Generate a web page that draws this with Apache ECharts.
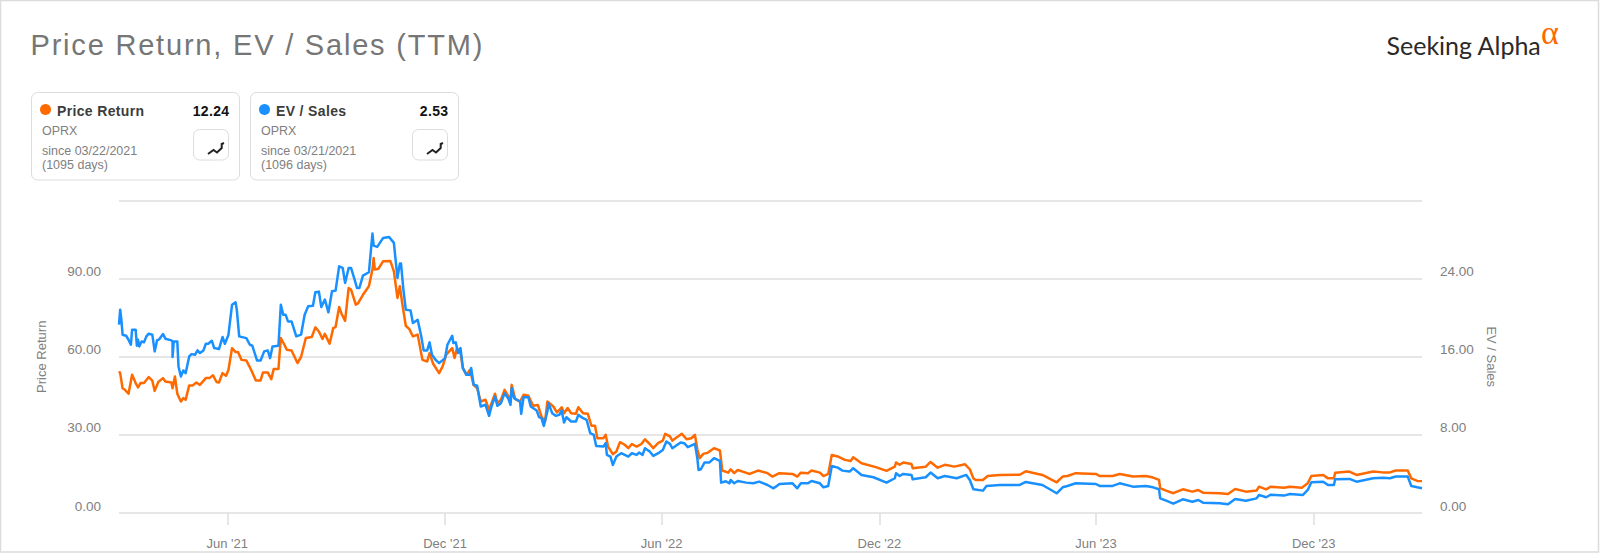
<!DOCTYPE html>
<html><head><meta charset="utf-8">
<style>
html,body{margin:0;padding:0;background:#fff}
#c{width:1600px;height:553px}
#c text[style*="29px"]{letter-spacing:1.8px}
#c text[style*="bold"]{letter-spacing:.35px}
</style>
<script src="https://cdn.jsdelivr.net/npm/echarts@6/dist/echarts.min.js"></script>
</head><body><div id="c"></div>
<script>
// x values are days since 2021-03-22
const priceDays = [0,1,3,5,8,11,14,16,18,21,25,28,30,33,37,39,44,45,47,49,52,54,56,59,62,65,68,73,76,79,82,84,87,90,92,95,98,100,103,107,111,115,119,121,125,128,130,134,136,139,141,145,150,153,157,162,165,168,171,173,177,180,182,185,187,190,193,195,199,201,205,210,213,214,215,218,222,228,231,234,236,238,241,244,247,251,255,259,261,264,269,272,275,280,282,284,287,289,292,295,298,301,304,308,311,316,318,321,324,327,329,330,333,337,340,344,348,352,355,358,360,365,368,372,374,377,380,384,386,390,394,397,400,402,407,409,411,415,418,421,425,428,431,435,439,442,446,449,453,457,459,463,465,473,477,481,484,486,488,491,495,500,505,507,512,514,517,520,526,530,537,545,549,555,566,570,573,579,582,589,592,596,599,604,610,615,617,624,636,645,652,653,656,659,666,667,678,682,688,694,702,711,715,718,720,726,730,740,757,762,776,788,793,797,804,821,824,835,841,852,863,869,874,875,880,886,894,902,907,911,925,932,938,947,956,958,964,968,979,984,994,999,1002,1012,1016,1021,1022,1034,1040,1054,1062,1068,1073,1083,1086,1091,1095];
const priceValues = [54.4,53.7,47.9,47.3,45.8,53.1,49.9,48.2,49.9,49.9,52.2,50.8,46.9,50.3,51.8,50.5,50.1,47.9,52.4,45.8,42.8,44.1,43.5,49.0,49.0,50.1,49.2,51.8,51.8,52.9,50.3,50.1,53.7,52.7,55.0,63.3,61.8,61.8,58.8,58.6,55.0,50.9,50.9,54.0,54.0,51.4,55.3,55.3,67.2,64.6,62.7,62.4,57.6,59.9,67.2,67.6,71.3,69.7,66.8,68.8,65.0,71.0,71.4,79.1,76.5,73.8,86.4,85.8,80.0,80.6,83.8,87.1,93.5,97.9,93.5,93.8,96.7,96.8,92.8,82.6,87.1,80.6,71.9,70.6,67.8,68.5,58.8,58.2,61.4,57.3,53.7,56.3,60.8,63.3,59.5,63.3,61.4,55.6,53.1,55.0,49.2,47.9,42.8,43.5,39.6,45.8,42.2,43.5,47.3,45.0,43.5,49.2,43.7,42.8,45.4,45.0,41.2,41.5,37.1,35.1,42.8,40.9,38.6,40.6,38.3,40.3,38.3,38.1,40.6,38.3,38.1,33.5,33.5,28.7,28.7,30.0,25.5,22.6,23.6,27.2,26.2,24.9,26.5,25.5,26.5,28.3,26.5,24.9,26.8,27.8,30.4,29.4,27.8,30.4,28.3,28.7,30.0,24.5,21.0,22.7,23.2,24.9,24.0,16.3,15.5,16.8,15.3,16.5,15.6,15.0,16.3,15.3,14.0,15.3,15.0,14.0,15.5,15.3,16.3,15.5,14.2,15.0,22.3,21.7,20.4,20.0,21.4,19.1,17.6,16.2,17.8,19.4,18.5,19.4,18.8,17.2,17.8,19.6,17.4,18.5,17.8,18.7,16.8,13.3,12.7,12.7,14.2,14.6,14.7,16.0,14.6,11.8,14.0,14.2,15.3,15.0,14.2,14.2,15.0,14.0,14.2,13.6,12.7,9.5,8.6,7.6,9.1,8.2,8.8,7.8,7.6,7.3,9.2,8.2,8.6,10.1,9.1,10.1,9.7,10.1,9.7,11.4,14.2,14.6,13.3,13.3,15.5,15.9,14.6,15.9,15.6,15.6,16.3,16.3,13.3,12.3,12.24];
const evDays = [0,1,2,3,6,8,10,11,14,15,16,17,19,21,23,25,28,30,32,34,37,39,44,45,45,46,49,50,52,54,56,59,61,64,66,68,71,73,75,78,80,84,87,89,92,95,98,99,101,107,110,112,116,119,122,125,127,129,134,136,138,140,142,145,149,153,156,159,163,165,168,170,173,176,179,182,185,188,190,193,195,198,200,202,205,210,213,214,217,222,227,231,234,236,237,239,241,245,247,251,254,256,259,261,263,266,269,274,276,280,281,283,285,287,289,292,295,296,298,301,304,308,311,313,316,318,321,324,327,329,330,332,337,338,340,344,346,351,353,355,357,360,361,364,367,370,372,374,376,380,384,386,390,393,396,399,401,407,409,410,413,415,418,422,428,431,435,437,440,442,446,449,454,457,460,463,465,472,475,478,484,486,487,489,492,496,500,505,506,510,513,514,517,520,527,533,538,545,550,552,555,566,570,573,579,582,589,592,596,599,604,608,614,617,624,634,645,652,653,656,659,666,667,678,682,688,694,704,712,715,718,726,729,740,757,762,776,788,793,797,804,821,824,835,841,852,863,869,874,875,880,886,894,902,907,911,925,932,938,947,956,958,964,968,979,984,995,999,1002,1012,1016,1021,1022,1034,1040,1054,1062,1068,1073,1083,1086,1091,1095];
const evValues = [19.28,20.82,19.79,18.26,18.15,17.74,17.23,18.77,18.77,17.13,17.74,17.06,17.57,17.47,18.09,18.36,18.26,16.55,17.68,17.81,18.32,17.85,17.68,17.57,15.97,17.57,17.57,15.01,13.98,14.6,14.32,16.03,16.27,16.21,16.65,16.38,16.65,17.33,17.33,17.64,16.89,16.79,18.02,17.33,18.26,21.33,21.57,20.82,18.09,17.91,17.23,17.13,15.62,15.62,16.55,16.65,15.86,17.06,17.13,21.33,20.31,20.31,19.62,19.62,18.09,18.26,20.31,21.16,21.23,22.6,22.67,21.09,21.85,20.55,22.7,22.77,25.26,25.09,23.56,25.09,25.09,23.9,23.04,23.04,24.31,24.65,28.62,27.38,27.25,28.17,28.27,27.66,24.07,25.54,25.54,22.87,20.82,20.75,19.45,19.79,18.09,16.65,16.65,17.47,16.21,15.69,15.35,15.86,17.23,18.15,17.4,17.47,16.38,16.89,14.84,14.15,14.15,14.84,13.13,13.03,10.91,11.08,9.95,10.91,11.93,10.97,11.25,12.27,11.76,11.08,12.79,11.76,11.42,10.15,11.86,11.86,10.91,10.5,9.81,9.71,8.92,10.39,11.25,10.22,9.95,10.05,10.5,9.26,9.81,9.37,9.37,10.05,9.71,9.54,8.17,8.0,6.87,6.8,7.15,5.95,5.78,4.92,5.78,6.12,5.78,6.12,5.95,6.19,5.95,6.63,6.29,5.85,6.19,6.46,7.32,7.08,6.63,7.21,7.15,6.74,7.08,5.61,4.41,4.48,5.16,5.16,5.61,5.33,3.11,3.25,3.04,3.38,3.04,3.28,3.11,3.04,3.21,2.87,2.53,2.7,2.97,3.04,2.53,3.04,3.04,3.28,3.04,2.63,2.77,4.82,4.65,4.34,4.24,4.58,3.9,3.66,3.11,3.56,4.07,3.79,4.0,3.9,3.45,3.66,4.14,3.56,3.79,3.56,3.9,3.38,2.43,2.29,2.77,2.87,2.87,3.18,2.87,2.02,2.63,2.77,3.04,2.97,2.77,2.77,3.04,2.7,2.77,2.63,2.43,1.5,1.26,0.96,1.4,1.16,1.33,1.06,0.99,0.89,1.44,1.26,1.5,1.85,1.61,1.88,1.78,1.95,1.85,2.36,3.15,3.21,2.87,2.87,3.45,3.49,3.21,3.56,3.62,3.56,3.73,3.73,2.77,2.63,2.53];
const tickDays = [91,274,456,639,821,1004];
const tickLabels = ["Jun '21","Dec '21","Jun '22","Dec '22","Jun '23","Dec '23"];
const lastDay = 1095;

const pairs = (days, vals) => days.map((d, i) => [d, vals[i]]);

const GRID = '#dedede', MUTED = '#808080', ORANGE = '#ff6a00', BLUE = '#1890ff';
const FF = '"Liberation Sans", Arial, sans-serif';
const gText = (x, y, text, o) => ({type:'text', x, y, silent:true, style:Object.assign({text, fill:MUTED, font:'12.5px '+FF, textAlign:'left', textVerticalAlign:'middle'}, o||{})});

function card(x, name, color, value, since, days) {
  return [
    {type:'rect', shape:{x:x+.5, y:92.5, width:208, height:87.5, r:6}, style:{fill:'#fff', stroke:'#dcdcdc', lineWidth:1}},
    {type:'circle', shape:{cx:x+14.5, cy:109.5, r:5.5}, style:{fill:color}},
    gText(x+26, 110.5, name, {font:'bold 14px '+FF, fill:'#3c3c3c'}),
    gText(x+198.5, 110.5, value, {font:'bold 14px '+FF, fill:'#111', textAlign:'right'}),
    gText(x+11, 130.5, 'OPRX'),
    gText(x+11, 150.5, since),
    gText(x+11, 165, days),
    {type:'rect', shape:{x:x+162.5, y:129.5, width:35, height:30.5, r:6}, style:{fill:'#fff', stroke:'#dcdcdc', lineWidth:1}},
    {type:'polyline', shape:{points:[[x+177,154],[x+182.5,150],[x+186,152.5],[x+190.7,148],[x+190.7,144],[x+193,143]]}, style:{fill:'none', stroke:'#222', lineWidth:2}}
  ];
}

const chart = echarts.init(document.getElementById('c'), null, {renderer:'svg', width:1600, height:553});
chart.setOption({
  animation:false,
  backgroundColor:'#fff',
  title:{text:'Price Return, EV / Sales (TTM)', left:25.5, top:25, textStyle:{fontFamily:FF, fontSize:29, fontWeight:'normal', color:'#767676'}},
  grid:{left:119, right:178, top:200.5, bottom:40, containLabel:false},
  xAxis:{
    type:'value', min:0, max:lastDay,
    axisLine:{show:false},
    splitLine:{show:false},
    axisTick:{show:true, length:12, customValues:tickDays, lineStyle:{color:GRID, width:1.5}},
    axisLabel:{
      customValues:tickDays, margin:24, fontFamily:FF, fontSize:13, color:MUTED,
      formatter:(v)=>tickLabels[tickDays.indexOf(v)] || ''
    }
  },
  yAxis:[
    {type:'value', min:0, max:120, interval:30, position:'left', name:'Price Return', nameLocation:'middle', nameRotate:90, nameGap:71,
     nameTextStyle:{fontFamily:FF, fontSize:13, color:MUTED},
     axisLine:{show:false}, axisTick:{show:false}, splitLine:{lineStyle:{color:GRID, width:1.5}},
     axisLabel:{showMaxLabel:false, margin:18, verticalAlign:'bottom', fontFamily:FF, fontSize:13.5, color:MUTED, formatter:v=>v.toFixed(2)}},
    {type:'value', min:0, max:32, interval:8, position:'right', name:'EV / Sales', nameLocation:'middle', nameRotate:-90, nameGap:63,
     nameTextStyle:{fontFamily:FF, fontSize:13, color:MUTED},
     axisLine:{show:false}, axisTick:{show:false}, splitLine:{show:false},
     axisLabel:{showMaxLabel:false, margin:18, verticalAlign:'bottom', fontFamily:FF, fontSize:13.5, color:MUTED, formatter:v=>v.toFixed(2)}}
  ],
  series:[
    {name:'Price Return', type:'line', yAxisIndex:0, data:pairs(priceDays, priceValues), showSymbol:false, z:3, lineStyle:{color:ORANGE, width:2.5, join:'round'}, itemStyle:{color:ORANGE}},
    {name:'EV / Sales', type:'line', yAxisIndex:1, data:pairs(evDays, evValues), showSymbol:false, z:4, lineStyle:{color:BLUE, width:2.5, join:'round'}, itemStyle:{color:BLUE}}
  ],
  graphic:{elements:[
    {type:'rect', z:-1, silent:true, shape:{x:.5, y:.5, width:1598, height:551.5}, style:{fill:'none', stroke:'#dcdcdc', lineWidth:1.5}},
    ...card(31, 'Price Return', ORANGE, '12.24', 'since 03/22/2021', '(1095 days)'),
    ...card(250, 'EV / Sales', BLUE, '2.53', 'since 03/21/2021', '(1096 days)'),
    gText(1386.5, 45, 'Seeking Alpha', {font:'25px Lato, "Open Sans", sans-serif', fill:'#2a2a2a'}),
    gText(1541, 32, 'α', {font:'34px "Liberation Serif", serif', fill:ORANGE})
  ]}
});
</script></body></html>
